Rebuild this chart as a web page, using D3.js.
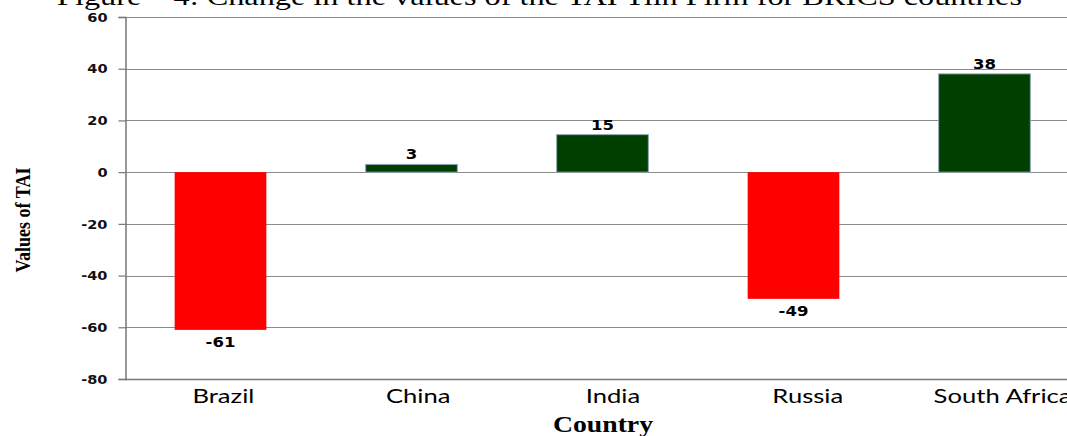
<!DOCTYPE html>
<html><head><meta charset="utf-8">
<script src="https://cdn.jsdelivr.net/npm/d3@7"></script>
<style>body{margin:0;background:#fff;overflow:hidden}svg{display:block}</style>
</head><body>
<svg id="c" width="1067" height="436"></svg>
<script>
const titleText = "Figure \u2013 4: Change in the values of the TAI Tiin Firm for BRICS countries";
const categories = ["Brazil", "China", "India", "Russia", "South Africa"];
const values = [-61, 3, 14.5, -49, 38];
const labels = ["-61", "3", "15", "-49", "38"];
const yTicks = [60, 40, 20, 0, -20, -40, -60, -80];
const xTitle = "Country";
const yTitle = "Values of TAI";

const svg = d3.select("#c");
const mLeft = 125, mRight = 1080, mTop = 17, mBottom = 379;
const x = d3.scaleBand().domain(categories).range([mLeft, mRight]).padding(0);
const xLab = d3.scaleBand().domain(categories).range([126, 1100]).padding(0);
const y = d3.scaleLinear().domain([-80, 60]).range([mBottom, mTop]);

function stretch(sel, f) {
  sel.each(function () {
    const w = this.getComputedTextLength();
    d3.select(this).attr("textLength", w * f).attr("lengthAdjust", "spacingAndGlyphs");
  });
}

// title (cut off at top, as in the source)
svg.append("text").attr("x", 57).attr("y", 5)
  .attr("font-family", "Liberation Serif, Times New Roman, serif").attr("font-size", 25)
  .attr("fill", "#000").attr("textLength", 965).attr("lengthAdjust", "spacingAndGlyphs")
  .text(titleText);

// gridlines
svg.append("g").selectAll("line").data(yTicks).join("line")
  .attr("x1", mLeft).attr("x2", 1067)
  .attr("y1", d => Math.round(y(d)) + 0.5).attr("y2", d => Math.round(y(d)) + 0.5)
  .attr("stroke", d => d === -80 ? "#777" : "#8c8c8c").attr("stroke-width", d => d === -80 ? 1.5 : 1.2);

// y axis
const yAxis = d3.axisLeft(y).tickValues(yTicks).tickSize(7).tickPadding(11).tickFormat(d => String(d));
const ga = svg.append("g").attr("transform", `translate(${mLeft + 0.5},0)`).call(yAxis);
ga.select(".domain").attr("stroke", "#777").attr("stroke-width", 1.5);
ga.selectAll(".tick line").attr("stroke", "#777").attr("stroke-width", 1.2);
const tt = ga.selectAll(".tick text").attr("font-family", "DejaVu Sans, Verdana, sans-serif")
  .attr("font-weight", "bold").attr("font-size", 13).attr("fill", "#111");
stretch(tt, 1.12);

// bars
const bw = x.bandwidth() * 0.48;
svg.append("g").selectAll("rect").data(values).join("rect")
  .attr("x", (d, i) => x(categories[i]) + (x.bandwidth() - bw) / 2)
  .attr("width", bw)
  .attr("y", d => y(Math.max(0, d)))
  .attr("height", d => Math.abs(y(d) - y(0)))
  .attr("fill", d => d < 0 ? "#ff0000" : "#003f00")
  .attr("stroke", d => d < 0 ? "none" : "#8fa8b8").attr("stroke-width", 1);

// data labels
const dl = svg.append("g").selectAll("text").data(values).join("text")
  .attr("x", (d, i) => x(categories[i]) + x.bandwidth() / 2)
  .attr("y", d => d < 0 ? y(d) + 17 : y(d) - 5)
  .attr("text-anchor", "middle")
  .attr("font-family", "DejaVu Sans, Verdana, sans-serif").attr("font-weight", "bold")
  .attr("font-size", 14).attr("fill", "#000")
  .text((d, i) => labels[i]);
stretch(dl, 1.18);

// category labels
const cl = svg.append("g").selectAll("text").data(categories).join("text")
  .attr("x", d => xLab(d) + xLab.bandwidth() / 2).attr("y", 403)
  .attr("text-anchor", "middle")
  .attr("font-family", "Lato, Open Sans, sans-serif").attr("font-size", 20).attr("fill", "#000")
  .text(d => d);
stretch(cl, 1.28);

// axis titles
svg.append("text").attr("x", 603).attr("y", 432).attr("text-anchor", "middle")
  .attr("font-family", "Liberation Serif, Times New Roman, serif").attr("font-weight", "bold")
  .attr("font-size", 23).attr("fill", "#000")
  .attr("textLength", 100).attr("lengthAdjust", "spacingAndGlyphs").text(xTitle);

svg.append("text").attr("transform", "translate(30,220) rotate(-90)").attr("text-anchor", "middle")
  .attr("font-family", "Liberation Serif, Times New Roman, serif").attr("font-weight", "bold")
  .attr("font-size", 21).attr("fill", "#000")
  .attr("textLength", 105).attr("lengthAdjust", "spacingAndGlyphs").text(yTitle);
</script>
</body></html>
